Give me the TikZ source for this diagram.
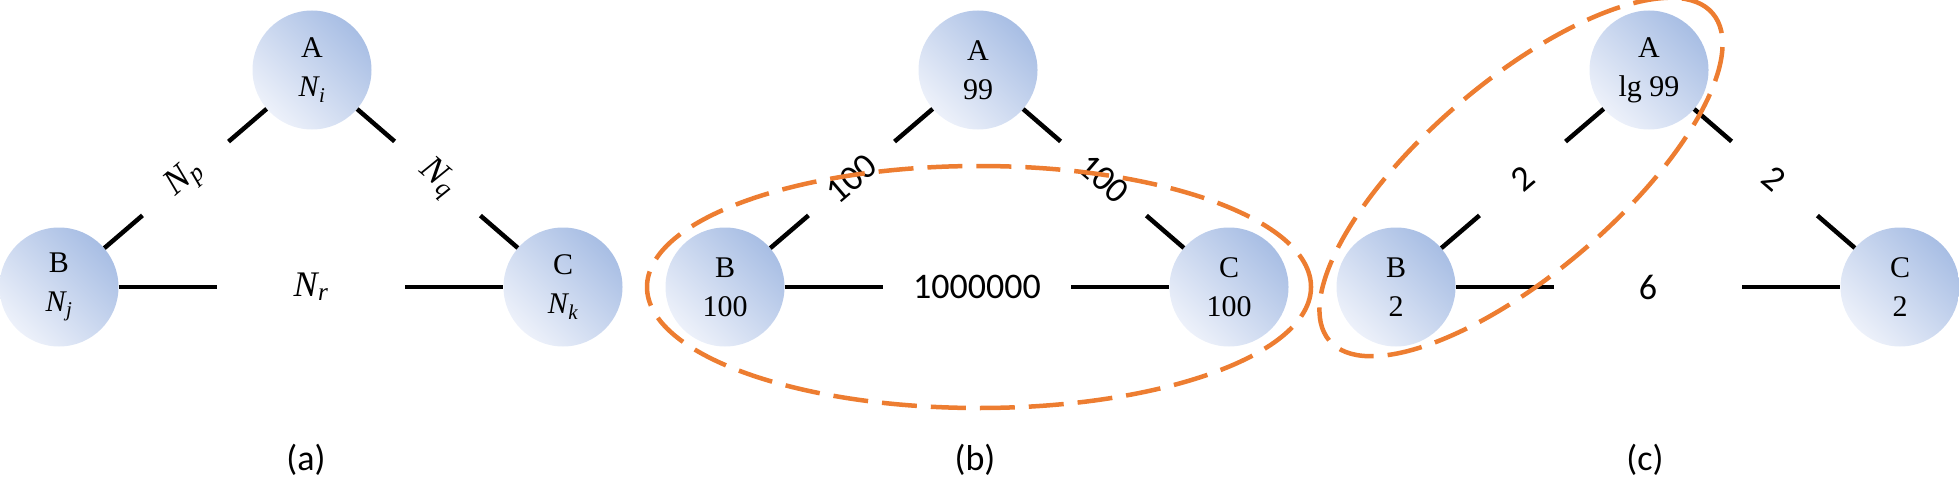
\documentclass[tikz,border=0pt]{standalone}
\usepackage{fontspec}
\setmainfont{Liberation Serif}
\newfontfamily\lblfont{Carlito}
\newfontfamily\mathitfont{Liberation Serif}
\newcommand\vsub[2]{{\mathitfont\itshape #1\kern0.5pt\textsubscript{#2}}}
\definecolor{ndark}{HTML}{A8BEE4}
\definecolor{nlight}{HTML}{EDF1FA}
\definecolor{orng}{HTML}{ED7D31}
\tikzset{
  vtx/.style={circle, minimum size=119pt, inner sep=0pt, top color=ndark, bottom color=nlight, shading angle=-45, align=center, font=\fontsize{30}{39}\selectfont},
  edg/.style={line width=4.5pt, black},
  gapd/.style={sloped, inner sep=0pt, minimum width=113pt, minimum height=12pt, font=\lblfont\fontsize{36}{40}\selectfont},
  gaph/.style={inner sep=0pt, minimum width=188pt, minimum height=12pt, font=\lblfont\fontsize{36}{40}\selectfont},
  grp/.style={draw=orng, line width=4.5pt, dash pattern=on 35pt off 14pt},
  capt/.style={font=\lblfont\fontsize{36}{40}\selectfont}
}
\begin{document}
\begin{tikzpicture}[x=1pt,y=1pt]
\useasboundingbox (0,0) rectangle (1959,-503);
% panel (a)
\node[vtx] (aA) at (312,-70) {A\\\vsub{N}{i}};
\node[vtx] (aB) at (59,-287) {B\\\vsub{N}{j}};
\node[vtx] (aC) at (563,-287) {C\\\vsub{N}{k}};
\path (aB) -- node[gapd] (ap) {\vsub{N}{p}} (aA);
\path (aA) -- node[gapd] (aq) {\vsub{N}{q}} (aC);
\path (aB) -- node[gaph] (ar) {\vsub{N}{r}} (aC);
\draw[edg] (aB) -- (ap); \draw[edg] (ap) -- (aA);
\draw[edg] (aA) -- (aq); \draw[edg] (aq) -- (aC);
\draw[edg] (aB) -- (ar); \draw[edg] (ar) -- (aC);
\node[capt] (capa) at (306,-460) {(a)};
% panel (b)
\node[vtx] (bA) at (978,-70) {A\\99};
\node[vtx] (bB) at (725,-287) {B\\100};
\node[vtx] (bC) at (1229,-287) {C\\100};
\path (bB) -- node[gapd] (bp) {100} (bA);
\path (bA) -- node[gapd] (bq) {100} (bC);
\path (bB) -- node[gaph] (br) {1000000} (bC);
\draw[edg] (bB) -- (bp); \draw[edg] (bp) -- (bA);
\draw[edg] (bA) -- (bq); \draw[edg] (bq) -- (bC);
\draw[edg] (bB) -- (br); \draw[edg] (br) -- (bC);
\draw[grp] (979,-287) ellipse [x radius=332, y radius=121];
\node[capt] (capb) at (975,-460) {(b)};
% panel (c)
\node[vtx] (cA) at (1649,-70) {A\\lg 99};
\node[vtx] (cB) at (1396,-287) {B\\2};
\node[vtx] (cC) at (1900,-287) {C\\2};
\path (cB) -- node[gapd] (cp) {2} (cA);
\path (cA) -- node[gapd] (cq) {2} (cC);
\path (cB) -- node[gaph] (cr) {6} (cC);
\draw[edg] (cB) -- (cp); \draw[edg] (cp) -- (cA);
\draw[edg] (cA) -- (cq); \draw[edg] (cq) -- (cC);
\draw[edg] (cB) -- (cr); \draw[edg] (cr) -- (cC);
\draw[grp, rotate around={40.5:(1521,-177)}] (1521,-177) ellipse [x radius=252, y radius=96];
\node[capt] (capc) at (1645,-460) {(c)};
\end{tikzpicture}
\end{document}
